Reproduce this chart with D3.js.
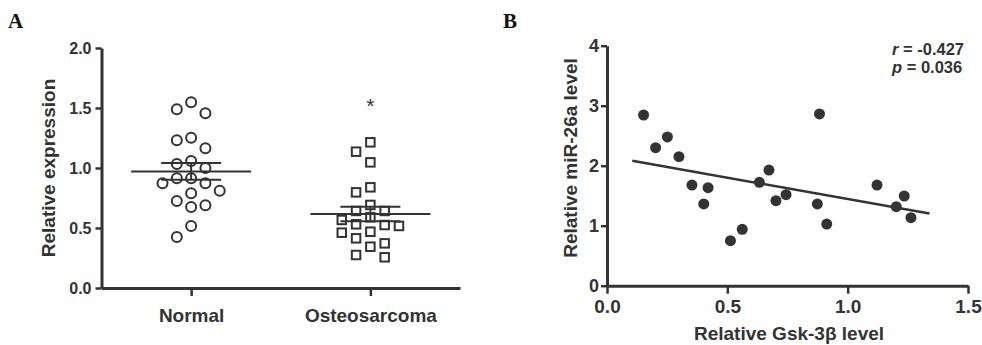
<!DOCTYPE html>
<html>
<head>
<meta charset="utf-8">
<script src="https://cdn.jsdelivr.net/npm/d3@7"></script>
<style>
  body { margin: 0; background: #fff; }
  svg { display: block; }
  text { font-family: "Liberation Sans", Arial, sans-serif; fill: #333; }
</style>
</head>
<body>
<div id="chart"></div>
<script>
// Panel A data: relative expression per sample
const groups = ["Normal", "Osteosarcoma"];
const normalValues = [1.547, 1.489, 1.456, 1.253, 1.231, 1.164, 1.058, 1.033, 1.0, 0.914,
  0.914, 0.873, 0.873, 0.811, 0.789, 0.725, 0.69, 0.675, 0.517, 0.425];
const osteoValues = [1.214, 1.136, 1.047, 0.839, 0.797, 0.692, 0.642, 0.642, 0.589, 0.567,
  0.531, 0.525, 0.517, 0.469, 0.461, 0.414, 0.372, 0.344, 0.275, 0.256];
const yTicksA = [0, 0.5, 1.0, 1.5, 2.0];

// Panel B data: Gsk-3β vs miR-26a
const gskValues = [0.152, 0.202, 0.251, 0.299, 0.353, 0.42, 0.402, 0.513, 0.562, 0.633,
  0.673, 0.702, 0.744, 0.883, 0.874, 0.913, 1.122, 1.235, 1.202, 1.263];
const mirValues = [2.845, 2.30, 2.48, 2.15, 1.678, 1.633, 1.362, 0.75, 0.94, 1.723,
  1.928, 1.417, 1.517, 2.862, 1.362, 1.028, 1.678, 1.495, 1.317, 1.133];
const xTicksB = [0, 0.5, 1.0, 1.5];
const yTicksB = [0, 1, 2, 3, 4];
const fitRange = [0.105, 1.34];
const rText = "-0.427";
const pText = "0.036";

const width = 982, height = 345;
const ink = "#333";

const svg = d3.select("#chart").append("svg")
  .attr("width", width)
  .attr("height", height);

// panel letters
svg.append("text").attr("x", 8).attr("y", 28)
  .style("font-family", "'Liberation Serif', 'Times New Roman', serif")
  .style("font-weight", "bold").style("font-size", "21px").style("fill", "#111")
  .text("A");
svg.append("text").attr("x", 503).attr("y", 28)
  .style("font-family", "'Liberation Serif', 'Times New Roman', serif")
  .style("font-weight", "bold").style("font-size", "21px").style("fill", "#111")
  .text("B");

function styleAxis(g, fontSize) {
  g.select(".domain").attr("stroke", ink).attr("stroke-width", 3);
  g.selectAll(".tick line").attr("stroke", ink).attr("stroke-width", 2.5);
  g.selectAll(".tick text")
    .style("font-size", fontSize)
    .style("font-weight", "bold")
    .attr("fill", ink);
}

// simple column swarm so markers do not overlap
function swarmLanes(values, y, step, minDist) {
  const order = d3.range(values.length).sort((a, b) => values[b] - values[a]);
  const placed = [];
  const lanes = new Array(values.length).fill(0);
  const candidates = [0, -1, 1, -2, 2, -3, 3];
  for (const i of order) {
    const py = y(values[i]);
    for (const c of candidates) {
      const ok = placed.every(p => Math.hypot((p.c - c) * step, p.y - py) >= minDist);
      if (ok) { lanes[i] = c; placed.push({ c, y: py }); break; }
    }
  }
  return lanes;
}

// ---------- Panel A ----------
const xA = d3.scalePoint().domain(groups).range([101.5, 460]).padding(0.5);
const yA = d3.scaleLinear().domain([0, 2]).range([288, 48]);
const laneStep = 14.3;

svg.append("g")
  .attr("transform", "translate(101.5,0)")
  .call(d3.axisLeft(yA).tickValues(yTicksA).tickFormat(d3.format(".1f"))
    .tickSize(6).tickSizeOuter(0).tickPadding(4))
  .call(g => styleAxis(g, "16px"));

svg.append("g")
  .attr("transform", "translate(0,288)")
  .call(d3.axisBottom(xA).tickSize(8).tickSizeOuter(0).tickPadding(13))
  .call(g => styleAxis(g, "19px"));

svg.append("text")
  .attr("transform", `translate(55,${(yA(0) + yA(2)) / 2}) rotate(-90)`)
  .attr("text-anchor", "middle")
  .style("font-size", "19px").style("font-weight", "bold")
  .text("Relative expression");

const normalLanes = swarmLanes(normalValues, yA, laneStep, 12.5);
const osteoLanes = swarmLanes(osteoValues, yA, laneStep, 12);

svg.append("g")
  .selectAll("circle")
  .data(normalValues)
  .join("circle")
  .attr("cx", (d, i) => xA("Normal") + normalLanes[i] * laneStep)
  .attr("cy", d => yA(d))
  .attr("r", 5)
  .attr("fill", "none")
  .attr("stroke", ink)
  .attr("stroke-width", 2);

const sq = 8.5;
svg.append("g")
  .selectAll("rect")
  .data(osteoValues)
  .join("rect")
  .attr("x", (d, i) => xA("Osteosarcoma") + osteoLanes[i] * laneStep - sq / 2)
  .attr("y", d => yA(d) - sq / 2)
  .attr("width", sq)
  .attr("height", sq)
  .attr("fill", "none")
  .attr("stroke", ink)
  .attr("stroke-width", 2);

// mean ± SEM
[["Normal", normalValues], ["Osteosarcoma", osteoValues]].forEach(([name, vals]) => {
  const m = d3.mean(vals);
  const sem = d3.deviation(vals) / Math.sqrt(vals.length);
  const cx = xA(name);
  const g = svg.append("g").attr("stroke", ink).attr("stroke-width", 2);
  g.append("line").attr("x1", cx - 60).attr("x2", cx + 60).attr("y1", yA(m)).attr("y2", yA(m));
  g.append("line").attr("x1", cx).attr("x2", cx).attr("y1", yA(m - sem)).attr("y2", yA(m + sem));
  g.append("line").attr("x1", cx - 30).attr("x2", cx + 30).attr("y1", yA(m + sem)).attr("y2", yA(m + sem));
  g.append("line").attr("x1", cx - 30).attr("x2", cx + 30).attr("y1", yA(m - sem)).attr("y2", yA(m - sem));
});

svg.append("text")
  .attr("x", xA("Osteosarcoma"))
  .attr("y", 113)
  .attr("text-anchor", "middle")
  .style("font-size", "21px")
  .text("*");

// ---------- Panel B ----------
const xB = d3.scaleLinear().domain([0, 1.5]).range([607, 968]);
const yB = d3.scaleLinear().domain([0, 4]).range([285.7, 45.7]);

svg.append("g")
  .attr("transform", "translate(607,0)")
  .call(d3.axisLeft(yB).tickValues(yTicksB).tickFormat(d3.format("d"))
    .tickSize(6).tickSizeOuter(0).tickPadding(2))
  .call(g => styleAxis(g, "18px"));

svg.append("g")
  .attr("transform", "translate(0,285.7)")
  .call(d3.axisBottom(xB).tickValues(xTicksB).tickFormat(d3.format(".1f"))
    .tickSize(8).tickSizeOuter(0).tickPadding(6))
  .call(g => styleAxis(g, "19px"));

svg.append("text")
  .attr("transform", `translate(577,158) rotate(-90)`)
  .attr("text-anchor", "middle")
  .style("font-size", "19px").style("font-weight", "bold")
  .text("Relative miR-26a level");

svg.append("text")
  .attr("x", 789).attr("y", 340)
  .attr("text-anchor", "middle")
  .style("font-size", "19px").style("font-weight", "bold")
  .text("Relative Gsk-3β level");

// least squares fit
const pairs = gskValues.map((x, i) => [x, mirValues[i]]);
const mx = d3.mean(gskValues), my = d3.mean(mirValues);
const slope = d3.sum(pairs, ([x, y]) => (x - mx) * (y - my)) / d3.sum(gskValues, x => (x - mx) ** 2);
const intercept = my - slope * mx;

svg.append("line")
  .attr("x1", xB(fitRange[0])).attr("y1", yB(intercept + slope * fitRange[0]))
  .attr("x2", xB(fitRange[1])).attr("y2", yB(intercept + slope * fitRange[1]))
  .attr("stroke", ink).attr("stroke-width", 2.5);

svg.append("g")
  .selectAll("circle")
  .data(pairs)
  .join("circle")
  .attr("cx", d => xB(d[0]))
  .attr("cy", d => yB(d[1]))
  .attr("r", 5.5)
  .attr("fill", ink);

const stat = svg.append("g").style("font-size", "16.5px").style("font-weight", "bold");
const t1 = stat.append("text").attr("x", 892).attr("y", 55);
t1.append("tspan").style("font-style", "italic").text("r");
t1.append("tspan").text(" = " + rText);
const t2 = stat.append("text").attr("x", 892).attr("y", 73);
t2.append("tspan").style("font-style", "italic").text("p");
t2.append("tspan").text(" = " + pText);
</script>
</body>
</html>
